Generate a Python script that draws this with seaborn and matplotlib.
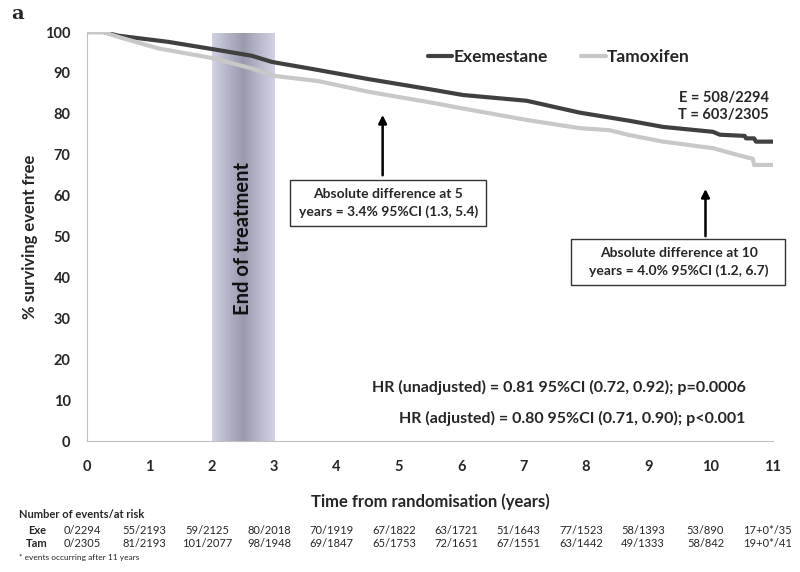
import matplotlib
matplotlib.use("Agg")
import matplotlib.pyplot as plt
from matplotlib.colors import LinearSegmentedColormap
from matplotlib.lines import Line2D
from matplotlib.patches import Rectangle
from matplotlib.transforms import blended_transform_factory
import seaborn as sns
import numpy as np
import pandas as pd

# Kaplan-Meier curves (years, % event free)
exe_years = [0, 0.26, 0.5, 1.3, 2.02, 2.64, 2.96, 3.71, 4.51, 5.5, 6.03, 7.05,
             7.9, 8.7, 9.24, 10.04, 10.15, 10.55, 10.57, 10.7, 10.73, 11.0]
exe_surv = [100, 100, 99.1, 97.6, 95.8, 94.2, 92.7, 90.7, 88.5, 86.0, 84.6, 83.2,
            80.3, 78.3, 76.8, 75.6, 74.9, 74.6, 74.0, 74.0, 73.2, 73.2]
tam_years = [0, 0.26, 0.5, 1.14, 2.02, 2.64, 2.99, 3.71, 4.51, 5.5, 6.03, 7.05,
             7.9, 8.38, 8.7, 9.24, 10.04, 10.57, 10.68, 10.7, 11.0]
tam_surv = [100, 100, 98.8, 96.0, 93.6, 91.1, 89.3, 88.0, 85.4, 82.8, 81.3, 78.5,
            76.5, 76.0, 74.8, 73.2, 71.6, 69.4, 69.0, 67.5, 67.5]

groups = ["Exemestane", "Tamoxifen"]
group_colors = ["#404040", "#c8c8c8"]

# number of events / at risk table
risk_years = list(range(12))
exe_risk = ["0/2294", "55/2193", "59/2125", "80/2018", "70/1919", "67/1822",
            "63/1721", "51/1643", "77/1523", "58/1393", "53/890", "17+0*/35"]
tam_risk = ["0/2305", "81/2193", "101/2077", "98/1948", "69/1847", "65/1753",
            "72/1651", "67/1551", "63/1442", "49/1333", "58/842", "19+0*/41"]

df = pd.concat([
    pd.DataFrame({"years": exe_years, "surv": exe_surv, "arm": groups[0]}),
    pd.DataFrame({"years": tam_years, "surv": tam_surv, "arm": groups[1]}),
])

sns.set_style("white")
plt.rcParams["font.family"] = ["Lato", "DejaVu Sans"]
plt.rcParams["font.weight"] = "bold"

fig = plt.figure(figsize=(8, 5.72), dpi=100)
ax = fig.add_axes([0.109, 0.229, 0.857, 0.715])

# shaded "end of treatment" band with a soft gradient
band_cmap = LinearSegmentedColormap.from_list(
    "band", ["#d2d2e4", "#b4b4c8", "#9a9aae", "#b8b8cc", "#d2d2e4"])
grad = np.linspace(0, 1, 200).reshape(1, -1)
ax.imshow(grad, extent=(2, 3, 0, 99.6), aspect="auto", cmap=band_cmap, zorder=0)
ax.text(2.5, 49.5, "End of treatment", rotation=90, ha="center", va="center",
        fontsize=14.5, fontweight="bold", color="#111111")

sns.lineplot(data=df, x="years", y="surv", hue="arm", palette=group_colors,
             estimator=None, sort=False, linewidth=3, ax=ax, legend=False, zorder=3)

ax.set_xlim(0, 11)
ax.set_ylim(0, 100)
ax.set_xticks(range(12))
ax.set_yticks(range(0, 101, 10))
ax.tick_params(axis="both", labelsize=10.5, length=4, color="#bfbfbf", pad=8)
for lab in ax.get_xticklabels() + ax.get_yticklabels():
    lab.set_fontweight("bold")
ax.tick_params(axis="x", pad=10)

sns.despine(ax=ax)
ax.spines["left"].set_color("#bfbfbf")
ax.spines["bottom"].set_color("#bfbfbf")

ax.set_xlabel("Time from randomisation (years)", fontsize=12, fontweight="bold", labelpad=14)
ax.set_ylabel("% surviving event free", fontsize=12, fontweight="bold", labelpad=5)

handles = [Line2D([], [], color=c, lw=3) for c in group_colors]
ax.legend(handles, groups, ncol=2, frameon=False, loc="center",
          bbox_to_anchor=(0.688, 0.939), fontsize=12.5, handlelength=1.4,
          handletextpad=0.1, columnspacing=1.9)

# annotation boxes with arrows
box = dict(boxstyle="square,pad=0.6", fc="white", ec="#333333", lw=1)
ax.text(4.83, 58.2, "Absolute difference at 5\nyears = 3.4% 95%CI (1.3, 5.4)",
        ha="center", va="center", fontsize=10, fontweight="bold", bbox=box,
        linespacing=1.45)
ax.annotate("", xy=(4.74, 80.4), xytext=(4.74, 64.3),
            arrowprops=dict(arrowstyle="-|>", color="black", lw=1.8, mutation_scale=12))

# second box is wider than its text in the original
ax.add_patch(Rectangle((7.77, 38.1), 3.43, 11.3, fc="white", ec="#333333", lw=1,
                       clip_on=False, zorder=4))
ax.text(9.49, 43.8, "Absolute difference at 10\nyears = 4.0% 95%CI (1.2, 6.7)",
        ha="center", va="center", fontsize=10, fontweight="bold",
        linespacing=1.45, zorder=5)
ax.annotate("", xy=(9.92, 62.3), xytext=(9.92, 49.4),
            arrowprops=dict(arrowstyle="-|>", color="black", lw=1.8, mutation_scale=12))

ax.text(10.94, 83.9, "E = 508/2294", ha="right", va="center", fontsize=10.5, fontweight="bold")
ax.text(10.94, 79.6, "T = 603/2305", ha="right", va="center", fontsize=10.5, fontweight="bold")

ax.text(10.56, 13.2, "HR (unadjusted) = 0.81 95%CI (0.72, 0.92); p=0.0006",
        ha="right", va="center", fontsize=11.5, fontweight="bold")
ax.text(10.56, 5.5, "HR (adjusted) = 0.80 95%CI (0.71, 0.90); p<0.001",
        ha="right", va="center", fontsize=11.5, fontweight="bold")

# panel letter
fig.text(0.014, 0.975, "a", fontsize=14, fontweight="bold", family="DejaVu Serif",
         va="center")

# risk table below the axis
tr = blended_transform_factory(ax.transData, fig.transFigure)
fig.text(0.024, 0.0997, "Number of events/at risk", fontsize=8, fontweight="bold",
         va="center")
fig.text(0.046, 0.0722, "Exe", fontsize=8, fontweight="bold", ha="center", va="center")
fig.text(0.046, 0.049, "Tam", fontsize=8, fontweight="bold", ha="center", va="center")
for yr, e, t in zip(risk_years, exe_risk, tam_risk):
    ax.text(yr - 0.08, 0.0722, e, transform=tr, fontsize=8, fontweight="normal",
            ha="center", va="center")
    ax.text(yr - 0.08, 0.049, t, transform=tr, fontsize=8, fontweight="normal",
            ha="center", va="center")
fig.text(0.024, 0.0245, "* events occurring after 11 years", fontsize=6,
         fontweight="normal", va="center")

fig.savefig("out.png", dpi=100)
